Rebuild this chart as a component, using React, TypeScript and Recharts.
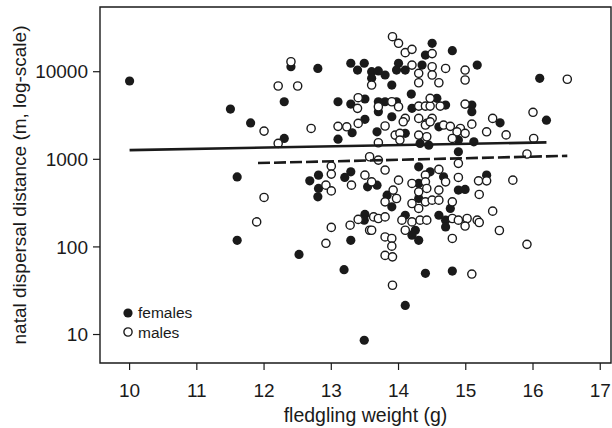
import React from 'react';
import { ComposedChart, Scatter, XAxis, YAxis, ReferenceArea } from 'recharts';

// fledgling weight (g) and natal dispersal distance (m)
const femaleWeight = [10.0, 11.5, 11.8, 11.6, 11.6, 12.4, 12.8, 12.3, 13.29, 13.49, 13.39, 13.1, 13.29, 13.5, 13.5, 12.3, 13.31, 13.1, 12.81, 12.68, 12.81, 12.8, 13.29, 13.2, 13.54, 13.5, 13.49, 13.29, 12.52, 13.19, 13.49, 14.5, 14.4, 14.8, 15.17, 13.6, 13.7, 13.8, 13.6, 13.9, 14.0, 13.97, 14.1, 14.35, 14.19, 13.7, 13.8, 13.97, 13.9, 13.7, 14.57, 14.7, 14.2, 13.68, 14.1, 14.6, 15.12, 14.32, 14.45, 14.89, 14.3, 14.47, 14.89, 13.68, 14.67, 14.3, 13.83, 13.9, 14.3, 14.89, 14.99, 14.77, 14.1, 14.25, 14.6, 14.7, 14.7, 14.2, 14.3, 14.4, 14.8, 14.1, 16.1, 15.09, 15.09, 15.51, 16.2, 15.31];
const femaleDistance = [7830, 3750, 2600, 630, 119, 11400, 10900, 4540, 12500, 12500, 10450, 4540, 4270, 4880, 2860, 1730, 2010, 1700, 660, 568, 465, 373, 720, 621, 485, 235, 202, 119, 82, 55, 8.6, 21100, 15500, 17400, 11900, 10000, 10200, 9170, 8400, 7040, 12500, 10450, 10450, 11900, 5560, 4540, 4540, 4540, 3060, 3490, 4970, 4160, 3820, 2060, 1980, 2350, 1585, 1520, 1450, 1660, 820, 720, 1220, 507, 631, 530, 390, 287, 357, 445, 453, 275, 230, 155, 230, 202, 169, 136, 119, 50, 53, 21.5, 8400, 4160, 3490, 2610, 2800, 660];

const maleWeight = [11.89, 12.0, 12.4, 12.21, 12.5, 13.4, 13.39, 12.0, 12.7, 13.1, 13.23, 13.4, 12.21, 13.57, 13.0, 13.0, 12.92, 13.0, 13.3, 13.5, 13.0, 13.28, 13.4, 13.57, 12.92, 13.91, 14.0, 14.1, 14.2, 14.5, 13.6, 14.2, 14.3, 14.5, 14.7, 14.5, 14.6, 14.3, 14.99, 14.99, 13.7, 13.9, 14.0, 14.3, 14.4, 14.47, 14.62, 14.47, 14.3, 14.5, 14.42, 14.1, 14.99, 15.09, 13.8, 14.67, 14.77, 14.92, 13.95, 14.02, 14.3, 14.42, 14.02, 14.07, 14.4, 14.47, 14.87, 14.99, 14.8, 13.7, 13.7, 13.8, 14.6, 14.89, 14.89, 13.6, 14.0, 14.2, 14.4, 14.4, 14.7, 14.6, 14.42, 14.3, 13.92, 13.8, 13.97, 14.2, 14.4, 14.5, 14.6, 14.3, 14.8, 15.17, 13.63, 13.7, 13.8, 13.6, 14.05, 14.2, 14.32, 14.42, 14.1, 14.8, 14.89, 15.02, 14.99, 13.8, 13.9, 13.9, 14.8, 13.8, 13.91, 15.09, 13.91, 16.51, 15.4, 15.31, 15.6, 16.0, 16.01, 15.91, 15.19, 15.31, 15.7, 15.2, 15.4, 15.2, 15.5, 15.91];
const maleDistance = [193, 367, 13000, 6870, 6870, 5050, 3820, 2100, 2250, 2380, 2350, 2570, 1520, 1070, 836, 678, 507, 436, 507, 660, 167, 177, 206, 155, 110, 25100, 21100, 16500, 18000, 16100, 7040, 11900, 9590, 11400, 10900, 9170, 7480, 7480, 10450, 8040, 3980, 4540, 3980, 4050, 4050, 4050, 4050, 4970, 2930, 2930, 2570, 2930, 4270, 2520, 2400, 2460, 2380, 2250, 1890, 1980, 1890, 1810, 1660, 2680, 2460, 2680, 2060, 1980, 1730, 1545, 980, 754, 767, 900, 621, 553, 578, 530, 660, 553, 553, 445, 465, 425, 445, 327, 357, 313, 327, 342, 342, 275, 327, 202, 220, 211, 220, 155, 202, 193, 202, 202, 155, 211, 202, 211, 173, 130, 125, 102, 125, 80, 77, 49, 36.5, 8200, 2930, 2060, 1900, 3440, 1730, 1150, 568, 568, 578, 397, 256, 190, 154, 107];

// fitted lines (females solid, males dashed)
const femaleFitWeight = [10.0, 16.2];
const femaleFitDistance = [1274, 1560];
const maleFitWeight = [11.91, 16.51];
const maleFitDistance = [906, 1096];

const xTicks = [10, 11, 12, 13, 14, 15, 16, 17];
const yTicks = [10, 100, 1000, 10000];
const xDomain = [9.56, 17.16];
const yDomain = [4.73, 54800];

const zip = (xs: number[], ys: number[]) => xs.map((x, i) => ({ x, y: ys[i] }));

const females = zip(femaleWeight, femaleDistance);
const males = zip(maleWeight, maleDistance);
const femaleFit = zip(femaleFitWeight, femaleFitDistance);
const maleFit = zip(maleFitWeight, maleFitDistance);

const INK = '#1a1a1a';
const FONT = '"Liberation Sans", Arial, Helvetica, sans-serif';

const FilledDot = (p: any) => <circle cx={p.cx} cy={p.cy} r={4.6} fill={INK} />;
const OpenDot = (p: any) => (
  <circle cx={p.cx} cy={p.cy} r={4.1} fill="#fff" stroke={INK} strokeWidth={1.4} />
);
const NoDot = () => <g />;

export default function App() {
  return (
    <div style={{ position: 'absolute', left: 0, top: 0, width: 612, height: 428, background: '#fff', fontFamily: FONT }}>
      <ComposedChart width={612} height={428} margin={{ top: 7, right: 1, left: 0, bottom: 0 }}>
        <XAxis
          type="number"
          dataKey="x"
          domain={xDomain}
          ticks={xTicks}
          allowDataOverflow
          axisLine={false}
          tickSize={7}
          tickMargin={14}
          height={65}
          tickLine={{ stroke: INK, strokeWidth: 1.2 }}
          tick={{ fill: INK, fontSize: 19, fontFamily: FONT }}
          label={(props: any) => {
            const vb = props.viewBox;
            return (
              <text x={vb.x + vb.width / 2 + 10} y={vb.y + 59} textAnchor="middle" fill={INK} fontSize={19.5} fontFamily={FONT}>
                fledgling weight (g)
              </text>
            );
          }}
        />
        <YAxis
          type="number"
          dataKey="y"
          scale="log"
          domain={yDomain}
          ticks={yTicks}
          allowDataOverflow
          axisLine={false}
          width={100}
          tickSize={7}
          tickMargin={5}
          tickLine={{ stroke: INK, strokeWidth: 1.2 }}
          tick={{ fill: INK, fontSize: 19, fontFamily: FONT }}
          label={(props: any) => {
            const vb = props.viewBox;
            const cx = vb.x + 26;
            const cy = vb.y + vb.height / 2;
            return (
              <text x={cx} y={cy} transform={`rotate(-90 ${cx} ${cy})`} textAnchor="middle" fill={INK} fontSize={19} fontFamily={FONT}>
                natal dispersal distance (m, log-scale)
              </text>
            );
          }}
        />
        <ReferenceArea
          x1={xDomain[0]}
          x2={xDomain[1]}
          y1={yDomain[0]}
          y2={yDomain[1]}
          fill="none"
          stroke={INK}
          strokeWidth={1.4}
          ifOverflow="visible"
        />
        <Scatter data={females} shape={FilledDot} isAnimationActive={false} />
        <Scatter data={males} shape={OpenDot} isAnimationActive={false} />
        <Scatter data={femaleFit} shape={NoDot} line={{ stroke: INK, strokeWidth: 2.6 }} isAnimationActive={false} />
        <Scatter data={maleFit} shape={NoDot} line={{ stroke: INK, strokeWidth: 2.6, strokeDasharray: '12 4' }} isAnimationActive={false} />
      </ComposedChart>
      <div style={{ position: 'absolute', left: 122, top: 303, fontSize: 15.5, color: INK, lineHeight: '19.5px' }}>
        <div style={{ display: 'flex', alignItems: 'center' }}>
          <svg width={12} height={12} style={{ marginRight: 4 }}>
            <circle cx={6} cy={6} r={4.6} fill={INK} />
          </svg>
          females
        </div>
        <div style={{ display: 'flex', alignItems: 'center' }}>
          <svg width={12} height={12} style={{ marginRight: 4 }}>
            <circle cx={6} cy={6} r={4.1} fill="#fff" stroke={INK} strokeWidth={1.4} />
          </svg>
          males
        </div>
      </div>
    </div>
  );
}
